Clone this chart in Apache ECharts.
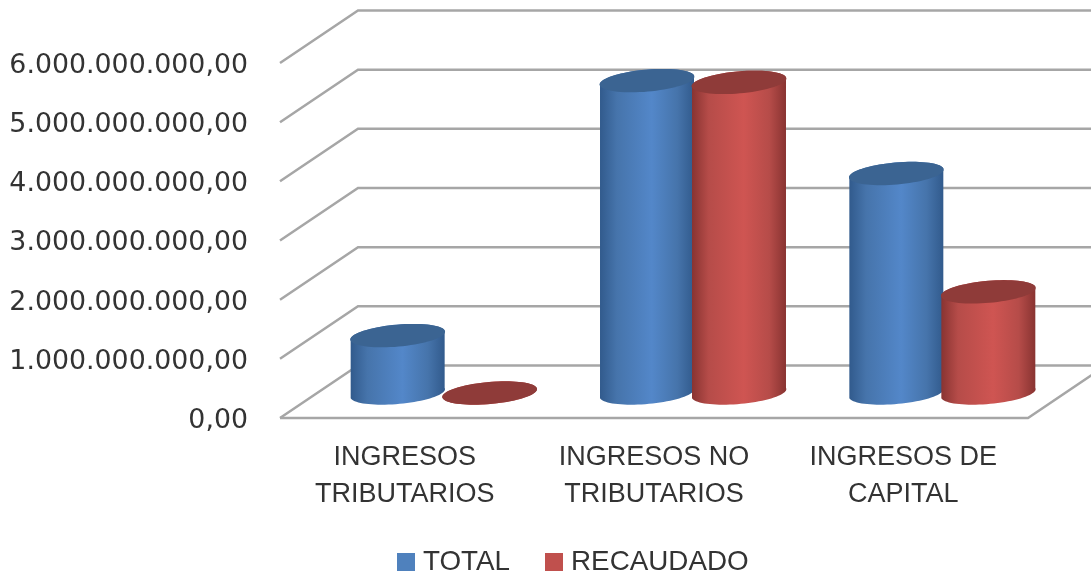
<!DOCTYPE html>
<html><head><meta charset="utf-8">
<style>html,body{margin:0;padding:0;background:#fff}#c{width:1091px;height:573px}</style>
<script src="https://cdn.jsdelivr.net/npm/echarts@6/dist/echarts.min.js"></script>
</head><body><div id="c"></div>
<script>
const categories = ['INGRESOS\nTRIBUTARIOS', 'INGRESOS NO\nTRIBUTARIOS', 'INGRESOS DE\nCAPITAL'];
const total = [970000000, 5280000000, 3710000000];
const recaudado = [0, 5250000000, 1710000000];
const ticks = [0, 1000000000, 2000000000, 3000000000, 4000000000, 5000000000, 6000000000];

const DX = 78, DY = 52.5, MID_X = 39, MID_Y = 25, OFF = 46, A = 47.5, B = 11, ROT = 5 * Math.PI / 180;
const fmt = v => '{v|' + (v === 0 ? '0' : String(v).replace(/\B(?=(\d{3})+$)/g, '.')) + ',00}';
const chart = echarts.init(document.getElementById('c'), null, {renderer: 'canvas'});

function ell(cx, cy, t) {
  const x = A * Math.cos(t), y = B * Math.sin(t);
  return [cx + x * Math.cos(ROT) + y * Math.sin(ROT), cy - x * Math.sin(ROT) + y * Math.cos(ROT)];
}
function cyl(side, dark, mid, top) {
  return function (params, api) {
    const base = api.coord([api.value(0), 0]);
    const head = api.coord([api.value(0), api.value(1)]);
    const cx = base[0] + MID_X + side * OFF, by = base[1] - MID_Y, ty = head[1] - MID_Y;
    const pts = [];
    for (let i = 0; i <= 40; i++) pts.push(ell(cx, by, Math.PI * i / 40 - 0.1));
    for (let i = 0; i <= 40; i++) pts.push(ell(cx, ty, Math.PI + Math.PI * i / 40 - 0.1));
    const topPts = [];
    for (let i = 0; i < 72; i++) topPts.push(ell(cx, ty, i * 2 * Math.PI / 72));
    return {type: 'group', children: [
      {type: 'polygon', shape: {points: pts}, style: {fill: new echarts.graphic.LinearGradient(0, 0, 1, 0, [
        {offset: 0, color: dark}, {offset: 0.18, color: mid[0]}, {offset: 0.55, color: mid[1]},
        {offset: 0.82, color: mid[0]}, {offset: 1, color: dark}])}},
      {type: 'polygon', shape: {points: topPts}, style: {fill: top}}
    ]};
  };
}
function walls(params, api) {
  const v = api.value(0), cs = params.coordSys;
  const y = api.coord([0, v])[1], x0 = cs.x, x1 = cs.x + cs.width;
  const style = {stroke: '#a6a6a6', lineWidth: 2.5, fill: null};
  const kids = [{type: 'polyline', shape: {points: [[x0, y], [x0 + DX, y - DY], [x1 + DX, y - DY]]}, style}];
  if (v === 0) kids.push({type: 'polyline', shape: {points: [[x0, y], [x1, y], [x1 + DX, y - DY]]}, style});
  return {type: 'group', children: kids};
}
chart.setOption({
  animation: false,
  backgroundColor: '#fff',
  legend: {
    data: ['TOTAL', 'RECAUDADO'], left: 392, top: 543, itemWidth: 18, itemHeight: 18, itemGap: 35,
    icon: 'rect', textStyle: {fontSize: 27.8, color: '#333', fontFamily: 'Liberation Sans', padding: [0, 0, 0, 3]}
  },
  grid: {left: 280, right: 63, top: 63, bottom: 155},
  xAxis: {
    type: 'category', data: categories,
    axisLine: {show: false}, axisTick: {show: false}, splitLine: {show: false},
    axisLabel: {fontSize: 27, color: '#333', fontFamily: 'Liberation Sans', lineHeight: 37, margin: 21, interval: 0}
  },
  yAxis: {
    type: 'value', min: 0, max: 6000000000, interval: 1000000000,
    axisLine: {show: false}, axisTick: {show: false}, splitLine: {show: false},
    axisLabel: {margin: 32, formatter: fmt, rich: {v: {fontSize: 26.8, color: '#333', fontFamily: 'DejaVu Sans', padding: [6, 0, 0, 0]}}}
  },
  series: [
    {type: 'custom', name: 'grid', z: 1, silent: true, clip: false, data: ticks.map(v => [v]), encode: {y: 0},
      coordinateSystem: 'cartesian2d', renderItem: walls},
    {type: 'custom', name: 'TOTAL', z: 2, clip: false, itemStyle: {color: '#4f81bd'},
      data: total.map((v, i) => [i, v]), encode: {x: 0, y: 1},
      renderItem: cyl(-1, '#315a8c', ['#4674ab', '#5387c9'], '#3b6492')},
    {type: 'custom', name: 'RECAUDADO', z: 3, clip: false, itemStyle: {color: '#c0504d'},
      data: recaudado.map((v, i) => [i, v]), encode: {x: 0, y: 1},
      renderItem: cyl(1, '#883331', ['#b64c49', '#cf5552'], '#8f3b39')}
  ]
});
</script></body></html>
